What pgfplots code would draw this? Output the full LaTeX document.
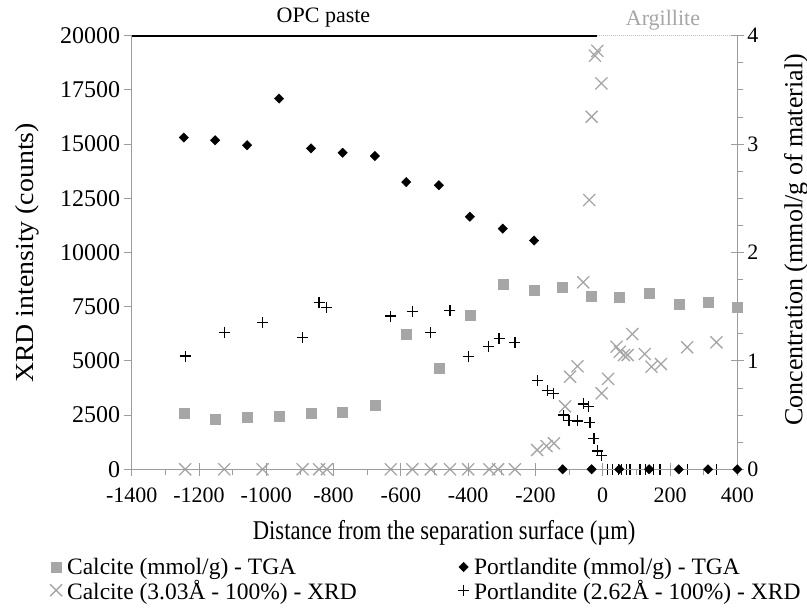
\documentclass[border=0pt]{standalone}
\usepackage{pgfplots}
\pgfplotsset{compat=1.18}
\usepackage{pgfplotstable}
\usepackage{fontspec}
\setmainfont{Liberation Serif}

\definecolor{markgray}{HTML}{A6A6A6}
\definecolor{axgray}{HTML}{9C9C9C}
\definecolor{dotgray}{HTML}{BFBFBF}

% TGA, mmol/g (right axis)
\pgfplotstableread{
x y
-1245 0.517
-1152 0.461
-1057 0.476
-962 0.494
-867 0.517
-773 0.531
-677 0.590
-584 1.245
-487 0.932
-395 1.417
-297 1.709
-204 1.654
-119 1.679
-33 1.599
49 1.587
138 1.629
226 1.522
313 1.537
400 1.491
}\calcitetga

\pgfplotstableread{
x y
-1245 3.06
-1152 3.035
-1057 2.99
-962 3.42
-867 2.96
-773 2.92
-677 2.89
-584 2.65
-487 2.62
-395 2.33
-297 2.22
-204 2.11
-119 0
-33 0
49 0
138 0
226 0
313 0
400 0
}\portltga

% XRD, counts (left axis)
\pgfplotstableread{
x y
-1241 0
-1125 0
-1011 0
-892 0
-843 0
-820 0
-630 0
-566 0
-511 0
-454 0
-400 0
-337 0
-311 0
-261 0
-195 890
-167 1075
-145 1200
-112 2900
-97 4271
-75 4750
-58 8624
-40 12420
-33 16262
-23 19075
-16 19300
-4 17800
-3 3505
16 4170
41 5654
51 5424
63 5270
74 5270
88 6240
125 5318
145 4732
173 4856
251 5627
338 5857
}\calcitexrd

\pgfplotstableread{
x y
-1241 5225
-1125 6318
-1011 6780
-892 6069
-843 7684
-820 7453
-630 7070
-566 7287
-511 6300
-454 7315
-400 5193
-340 5654
-308 6042
-261 5857
-194 4086
-164 3625
-147 3505
-117 2504
-100 2241
-76 2228
-58 3012
-43 2887
-38 2150
-26 1430
-15 844
-3 627
0 0
15 0
30 0
46 0
57 0
71 0
81 0
111 0
128 0
150 0
170 0
251 0
338 0
}\portlxrd

\begin{document}
\begin{tikzpicture}
\pgfplotsset{
  base/.style={
    scale only axis, width=605.6pt, height=433.6pt,
    at={(0,0)}, anchor=south west,
    xmin=-1400, xmax=400,
    scaled ticks=false,
    axis line style={draw=axgray, line width=0.8pt},
    every tick/.append style={draw=axgray, line width=0.8pt},
    tick label style={font=\fontsize{22}{22}\selectfont,
      /pgf/number format/assume math mode=true,
      /pgf/number format/1000 sep={}},
  },
  xrdcalc/.style={only marks, mark=x, mark size=8.5pt, color=markgray,
    mark options={line width=1.3pt}},
  xrdport/.style={only marks, mark=+, mark size=5.5pt, color=black,
    mark options={line width=1.2pt}},
}

% left axis: XRD counts
\begin{axis}[base,
  axis x line=none, axis y line*=left,
  ymin=0, ymax=20000,
  ytick={0,2500,...,20000},
  yticklabel style={font=\fontsize{24}{24}\selectfont},
  tick align=outside, major tick length=8pt,
  ylabel={\scalebox{1.07}[1]{XRD intensity (counts)}},
  ylabel style={font=\fontsize{26}{26}\selectfont,
    at={(axis description cs:-0.172,0.499)}, anchor=center},
  clip=false,
]
  \addplot[black, line width=2pt] coordinates {(-1400,20000) (-18,20000)};
  \addplot[dotgray, line width=1pt, densely dotted] coordinates {(-18,20000) (400,20000)};
  \node[font=\fontsize{22}{22}\selectfont] at (axis cs:-830,20000) [yshift=17.7pt] {OPC paste};
  \node[font=\fontsize{22}{22}\selectfont, text=markgray] at (axis cs:179,20000) [yshift=15.7pt] {Argillite};
  \addplot[xrdcalc] table {\calcitexrd};
  \addplot[xrdport] table {\portlxrd};
\end{axis}

% right axis: TGA mmol/g, plus x axis
\begin{axis}[base,
  axis x line*=bottom, axis y line*=right,
  ymin=0, ymax=4,
  xtick={-1400,-1200,...,400},
  ytick={0,1,2,3,4},
  xticklabel style={yshift=-9pt},
  minor x tick num=1, minor y tick num=3,
  tick align=center, major tick length=13pt, minor tick length=6pt,
  minor x tick style={yshift=-3pt},
  minor y tick style={xshift=3pt},
  xlabel={\scalebox{1}[1.2]{Distance from the separation surface (µm)}},
  xlabel style={font=\fontsize{22.6}{22.6}\selectfont,
    at={(axis description cs:0.516,-0.146)}, anchor=center},
  ylabel={Concentration (mmol/g of material)},
  ylabel style={font=\fontsize{26}{26}\selectfont,
    at={(axis description cs:1.097,0.529)}, anchor=center, rotate=0},
  legend columns=2,
  legend cell align=left,
  legend style={draw=none, fill=none, font=\fontsize{23.5}{23.5}\selectfont,
    at={(axis description cs:-0.14,-0.195)}, anchor=north west,
    /tikz/every row/.append style={row sep=5pt}},
]
  \addplot[only marks, mark=square*, mark size=5pt, color=markgray] table {\calcitetga};
  \addlegendentry{\makebox[392pt][l]{\hspace{3pt}Calcite (mmol/g) - TGA}}
  \addplot[only marks, mark=diamond*, mark size=4.7pt, color=black,
    mark options={xscale=1.33}] table {\portltga};
  \addlegendentry{\hspace{3pt}Portlandite (mmol/g) - TGA}
  \addlegendimage{xrdcalc}
  \addlegendentry{\makebox[392pt][l]{\hspace{3pt}Calcite (3.03Å - 100\%) - XRD}}
  \addlegendimage{xrdport}
  \addlegendentry{\hspace{3pt}Portlandite (2.62Å - 100\%) - XRD}
\end{axis}

\pgfresetboundingbox
\path (-131.7pt,-139.7pt) rectangle (675.3pt,469.3pt);
\end{tikzpicture}
\end{document}
